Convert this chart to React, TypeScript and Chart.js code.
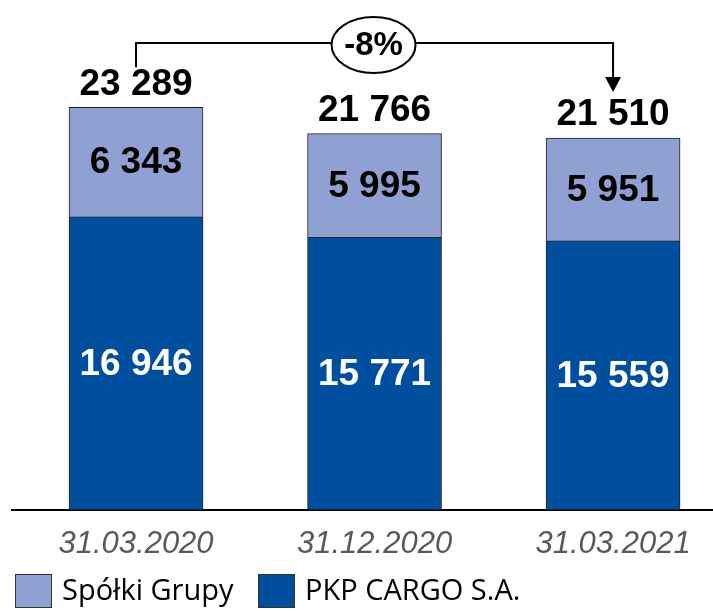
import React, { useEffect, useRef } from "react";
import { Chart, registerables } from "chart.js";

Chart.register(...registerables);

const categories = ["31.03.2020", "31.12.2020", "31.03.2021"];
const pkpCargo = [16946, 15771, 15559];
const spolkiGrupy = [6343, 5995, 5951];
const totals = [23289, 21766, 21510];
const changeLabel = "-8%";
const seriesNames = ["PKP CARGO S.A.", "Spółki Grupy"];
const seriesColors = ["#004F9E", "#8FA0D2"];

const fmt = (v: number) => String(v).replace(/\B(?=(\d{3})+(?!\d))/g, " ");

const labelsPlugin = {
  id: "customLabels",
  afterDraw(chart: any) {
    const ctx = chart.ctx;
    const m0 = chart.getDatasetMeta(0);
    const m1 = chart.getDatasetMeta(1);
    ctx.save();
    ctx.textAlign = "center";
    ctx.textBaseline = "middle";
    ctx.font = 'bold 37px "Liberation Sans", Arial, sans-serif';
    // segment values
    m0.data.forEach((el: any, i: number) => {
      ctx.fillStyle = "#ffffff";
      ctx.fillText(fmt(pkpCargo[i]), el.x, (el.y + el.base) / 2 + 1);
    });
    m1.data.forEach((el: any, i: number) => {
      ctx.fillStyle = "#000000";
      ctx.fillText(fmt(spolkiGrupy[i]), el.x, (el.y + el.base) / 2 + 1);
      ctx.fillText(fmt(totals[i]), el.x, el.y - 23);
    });

    // bracket annotation
    const a = m1.data[0];
    const b = m1.data[2];
    const yLine = chart.chartArea.top + 43;
    const tip = b.y - 46;
    ctx.strokeStyle = "#000";
    ctx.lineWidth = 2;
    ctx.beginPath();
    ctx.moveTo(a.x, a.y - 40);
    ctx.lineTo(a.x, yLine);
    ctx.lineTo(b.x, yLine);
    ctx.lineTo(b.x, tip - 14);
    ctx.stroke();
    ctx.fillStyle = "#000";
    ctx.beginPath();
    ctx.moveTo(b.x - 8, tip - 15);
    ctx.lineTo(b.x + 8, tip - 15);
    ctx.lineTo(b.x, tip);
    ctx.closePath();
    ctx.fill();

    const cx = (a.x + b.x) / 2 - 1;
    const cy = yLine + 2;
    ctx.beginPath();
    ctx.ellipse(cx, cy, 42, 28, 0, 0, Math.PI * 2);
    ctx.fillStyle = "#fff";
    ctx.fill();
    ctx.stroke();
    ctx.fillStyle = "#000";
    ctx.font = 'bold 33px "Liberation Sans", Arial, sans-serif';
    ctx.fillText(changeLabel, cx, cy + 1);

    // legend
    const items = [
      { name: seriesNames[1], color: seriesColors[1], x: 15 },
      { name: seriesNames[0], color: seriesColors[0], x: 258 },
    ];
    ctx.textAlign = "left";
    ctx.font = '29px "Open Sans", sans-serif';
    ctx.lineWidth = 1;
    items.forEach((it) => {
      ctx.fillStyle = it.color;
      ctx.fillRect(it.x, 574, 37, 34);
      ctx.strokeStyle = "#333";
      ctx.strokeRect(it.x + 0.5, 574.5, 36, 33);
      ctx.fillStyle = "#000";
      ctx.fillText(it.name, it.x + 47, 592);
    });
    ctx.restore();
  },
};

export default function App() {
  const ref = useRef<HTMLCanvasElement | null>(null);
  useEffect(() => {
    if (!ref.current) return;
    const chart = new Chart(ref.current, {
      type: "bar",
      data: {
        datasets: [
          {
            label: seriesNames[0],
            data: pkpCargo.map((y, i) => ({ x: i, y })),
            backgroundColor: seriesColors[0],
            borderColor: "#222",
            borderWidth: 1,
            barThickness: 134,
          },
          {
            label: seriesNames[1],
            data: spolkiGrupy.map((y, i) => ({ x: i, y })),
            backgroundColor: seriesColors[1],
            borderColor: "#222",
            borderWidth: 1,
            barThickness: 134,
          },
        ],
      },
      options: {
        animation: false,
        responsive: false,
        layout: { padding: { left: 12, right: 0, top: 0, bottom: 32 } },
        plugins: { legend: { display: false }, tooltip: { enabled: false } },
        scales: {
          x: {
            type: "linear",
            stacked: true,
            min: -0.52,
            max: 2.419,
            offset: false,
            grid: { display: false, drawTicks: false },
            border: { display: true, color: "#000", width: 2 },
            afterBuildTicks: (scale: any) => {
              scale.ticks = categories.map((_, i) => ({ value: i }));
            },
            ticks: {
              autoSkip: false,
              maxRotation: 0,
              padding: 16,
              color: "#595959",
              font: { family: '"Liberation Sans", Arial, sans-serif', size: 31, style: "italic" },
              callback: (v: any) => categories[v as number] ?? "",
            },
          },
          y: {
            stacked: true,
            display: false,
            min: 0,
            max: 29500,
          },
        },
      },
      plugins: [labelsPlugin],
    } as any);
    return () => chart.destroy();
  }, []);
  return (
    <div style={{ position: "absolute", left: 0, top: 0, width: 713, height: 611 }}>
      <canvas ref={ref} width={713} height={611} />
    </div>
  );
}
